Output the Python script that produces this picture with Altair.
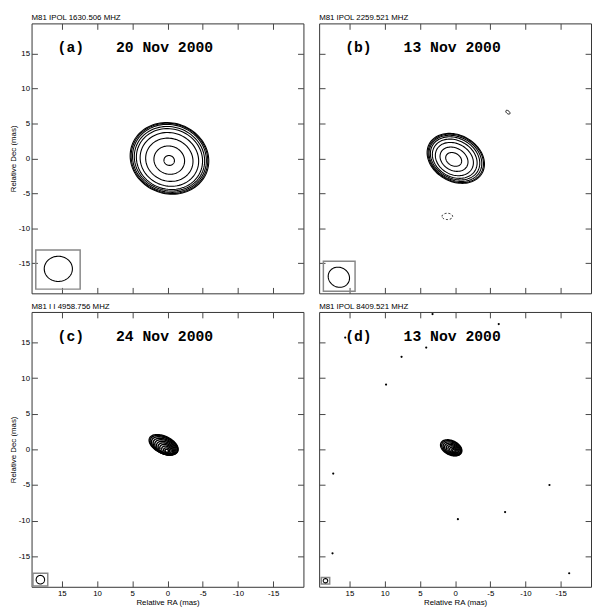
import numpy as np
import pandas as pd
import altair as alt

LIM = 19.3
TICKS = [15, 10, 5, 0, -5, -10, -15]
W = 277
H_TOP = 275
H_BOT = 280

freq_titles = ["M81 IPOL 1630.506 MHZ", "M81 IPOL 2259.521 MHZ",
               "M81 I I 4958.756 MHZ", "M81 IPOL 8409.521 MHZ"]
tags = ["(a)", "(b)", "(c)", "(d)"]
dates = ["20 Nov 2000", "13 Nov 2000", "24 Nov 2000", "13 Nov 2000"]
line_w = [1.1, 1.1, 1.4, 1.4]

# contour ellipses (mas): centre RA, centre Dec, semi-major, semi-minor, PA (deg from RA axis)
a_cra = [-0.24, -0.25, -0.26, -0.27, -0.28, -0.28, -0.28, -0.28, -0.28]
a_cdec = [-0.3, -0.25, -0.2, -0.15, -0.1, -0.05, 0.0, 0.0, 0.0]
a_maj = [0.75, 2.2, 3.4, 4.2, 4.75, 5.05, 5.3, 5.5, 5.65]
a_min = [0.7, 2.0, 3.05, 3.8, 4.3, 4.55, 4.8, 4.95, 5.05]
a_pa = 20

b_cra = [0.2, 0.15, 0.1, 0.05, 0.0, -0.05, -0.1, -0.1]
b_cdec = [-0.15, -0.12, -0.1, -0.05, 0.0, 0.0, 0.0, 0.0]
b_maj = [1.2, 2.1, 2.85, 3.35, 3.7, 3.95, 4.15, 4.3]
b_min = [0.9, 1.6, 2.2, 2.6, 2.85, 3.05, 3.2, 3.3]
b_pa = 30

c_cra = [0.1, 0.12, 0.15, 0.2, 0.25, 0.3, 0.35, 0.4, 0.45, 0.5, 0.55]
c_cdec = [-0.2, -0.15, -0.08, 0.0, 0.1, 0.2, 0.3, 0.4, 0.5, 0.58, 0.65]
c_maj = [0.25, 0.45, 0.7, 0.95, 1.15, 1.35, 1.55, 1.75, 1.95, 2.1, 2.2]
c_min = [0.2, 0.35, 0.5, 0.62, 0.72, 0.82, 0.92, 1.0, 1.08, 1.15, 1.2]
c_pa = 25

d_cra = [0.18, 0.2, 0.25, 0.3, 0.35, 0.4, 0.45, 0.5, 0.55]
d_cdec = [-0.2, -0.15, -0.1, -0.05, 0.0, 0.05, 0.12, 0.18, 0.22]
d_maj = [0.2, 0.35, 0.55, 0.75, 0.95, 1.15, 1.32, 1.48, 1.6]
d_min = [0.15, 0.25, 0.38, 0.5, 0.62, 0.74, 0.84, 0.93, 1.0]
d_pa = 25

# small extra contours in (b)
b_extra_cra = [-7.5]
b_extra_cdec = [6.6]
b_extra_maj = [0.35]
b_extra_min = [0.2]
b_neg_cra = [1.1]
b_neg_cdec = [-8.3]
b_neg_maj = [0.75]
b_neg_min = [0.45]

# beam boxes (RA1, RA2, Dec1, Dec2) and beam ellipses (RA, Dec, maj, min, PA)
box_ra1 = [18.7, 18.7, 19.1, 19.0]
box_ra2 = [12.4, 14.2, 17.0, 17.8]
box_dec1 = [-13.1, -14.7, -17.4, -18.0]
box_dec2 = [-18.7, -19.0, -19.2, -18.9]
beam_ra = [15.5, 16.5, 18.05, 18.4]
beam_dec = [-15.8, -17.0, -18.3, -18.45]
beam_maj = [2.0, 1.55, 0.6, 0.32]
beam_min = [1.8, 1.4, 0.6, 0.3]
beam_pa = [0, 30, 0, 0]

# isolated noise spots in (d)
d_dot_ra = [15.6, 3.2, -6.2, 4.1, 7.6, 9.8, 17.3, -0.4, -7.1, -13.4, 17.4, -16.2]
d_dot_dec = [15.7, 19.0, 17.6, 14.3, 13.0, 9.1, -3.4, -9.8, -8.8, -5.0, -14.6, -17.4]


def ellipse(cx, cy, A, B, pa, cid, n=100):
    t = np.linspace(0, 2 * np.pi, n)
    p = np.deg2rad(pa)
    ra = cx + A * np.cos(t) * np.cos(p) - B * np.sin(t) * np.sin(p)
    dec = cy + A * np.cos(t) * np.sin(p) + B * np.sin(t) * np.cos(p)
    return pd.DataFrame({"ra": ra, "dec": dec, "cid": cid, "k": np.arange(n)})


def contours(cra, cdec, maj, mn, pa, prefix):
    return pd.concat([ellipse(cra[i], cdec[i], maj[i], mn[i], pa, f"{prefix}{i}")
                      for i in range(len(maj))], ignore_index=True)


xs = alt.Scale(domain=[LIM, -LIM], nice=False, zero=False)
ys = alt.Scale(domain=[-LIM, LIM], nice=False, zero=False)

common_axis = dict(values=TICKS, tickSize=6, offset=-6, domain=False, grid=False,
                   tickColor="#444", tickWidth=1, labelFontSize=8,
                   labelFont="Liberation Sans", labelColor="black",
                   titleFontSize=8, titleFont="Liberation Sans",
                   titleFontWeight="normal", titleColor="black",
                   labelExpr="datum.value + ''")


def axis(orient, labels, title):
    kw = dict(common_axis)
    kw["orient"] = orient
    kw["labels"] = labels
    kw["labelPadding"] = 3 if orient == "bottom" else 2
    kw["titlePadding"] = 1
    kw["title"] = title if title else None
    return alt.Axis(**kw)


def panel(i, cdf, h, extra_solid=None, extra_dashed=None, dots=None, xlab=False, ylab=False):
    layers = []
    layers.append(
        alt.Chart(cdf).mark_line(stroke="black", strokeWidth=line_w[i]).encode(
            x=alt.X("ra:Q", scale=xs, axis=axis("bottom", xlab, "Relative RA (mas)" if xlab else "")),
            y=alt.Y("dec:Q", scale=ys, axis=axis("left", ylab, "Relative Dec (mas)" if ylab else "")),
            detail="cid:N", order="k:Q"))
    boxdf = pd.DataFrame({"x1": [box_ra1[i]], "x2": [box_ra2[i]],
                          "y1": [box_dec1[i]], "y2": [box_dec2[i]]})
    layers.append(
        alt.Chart(boxdf).mark_rect(fillOpacity=0, stroke="#888", strokeWidth=1.5).encode(
            x=alt.X("x1:Q", scale=xs, axis=axis("top", False, "")), x2="x2:Q",
            y=alt.Y("y1:Q", scale=ys, axis=axis("right", False, "")), y2="y2:Q"))
    bdf = ellipse(beam_ra[i], beam_dec[i], beam_maj[i], beam_min[i], beam_pa[i], "beam")
    layers.append(
        alt.Chart(bdf).mark_line(stroke="black", strokeWidth=1.1).encode(
            x=alt.X("ra:Q", scale=xs, axis=None), y=alt.Y("dec:Q", scale=ys, axis=None),
            detail="cid:N", order="k:Q"))
    if extra_solid is not None:
        layers.append(
            alt.Chart(extra_solid).mark_line(stroke="black", strokeWidth=1).encode(
                x=alt.X("ra:Q", scale=xs, axis=None), y=alt.Y("dec:Q", scale=ys, axis=None),
                detail="cid:N", order="k:Q"))
    if extra_dashed is not None:
        layers.append(
            alt.Chart(extra_dashed).mark_line(stroke="black", strokeWidth=1, strokeDash=[2, 2]).encode(
                x=alt.X("ra:Q", scale=xs, axis=None), y=alt.Y("dec:Q", scale=ys, axis=None),
                detail="cid:N", order="k:Q"))
    if dots is not None:
        layers.append(
            alt.Chart(dots).mark_circle(color="black", size=5, opacity=1).encode(
                x=alt.X("ra:Q", scale=xs, axis=None), y=alt.Y("dec:Q", scale=ys, axis=None)))
    tdf = pd.DataFrame({"tag": [tags[i]], "date": [dates[i]]})
    layers.append(
        alt.Chart(tdf).mark_text(font="Liberation Mono", fontWeight="bold", fontSize=15,
                                 align="left", baseline="alphabetic", color="black").encode(
            x=alt.value(26.5), y=alt.value(29.5), text="tag:N"))
    layers.append(
        alt.Chart(tdf).mark_text(font="Liberation Mono", fontWeight="bold", fontSize=15,
                                 align="left", baseline="alphabetic", color="black").encode(
            x=alt.value(86), y=alt.value(29.5), text="date:N"))
    return alt.layer(*layers).resolve_axis(x="independent", y="independent").properties(
        width=W, height=h,
        title=alt.TitleParams(freq_titles[i], anchor="start", frame="group", fontSize=8,
                              font="Liberation Sans", fontWeight="normal", color="black",
                              offset=1))


ca = contours(a_cra, a_cdec, a_maj, a_min, a_pa, "a")
cb = contours(b_cra, b_cdec, b_maj, b_min, b_pa, "b")
cc = contours(c_cra, c_cdec, c_maj, c_min, c_pa, "c")
cd = contours(d_cra, d_cdec, d_maj, d_min, d_pa, "d")
b_solid = contours(b_extra_cra, b_extra_cdec, b_extra_maj, b_extra_min, 40, "bx")
b_dash = contours(b_neg_cra, b_neg_cdec, b_neg_maj, b_neg_min, 0, "bn")
dots = pd.DataFrame({"ra": d_dot_ra, "dec": d_dot_dec})

pa = panel(0, ca, H_TOP, ylab=True)
pb = panel(1, cb, H_TOP, extra_solid=b_solid, extra_dashed=b_dash)
pc = panel(2, cc, H_BOT, xlab=True, ylab=True)
pd_ = panel(3, cd, H_BOT, dots=dots, xlab=True)

chart = alt.vconcat(
    alt.hconcat(pa, pb, spacing=14),
    alt.hconcat(pc, pd_, spacing=14),
    spacing=8,
).configure_view(stroke="#333", strokeWidth=1).properties(
    padding={"left": 0, "top": 0, "right": 0, "bottom": 0},
    background="white")

chart.save("out.html", embed_options={"renderer": "svg", "actions": False})
